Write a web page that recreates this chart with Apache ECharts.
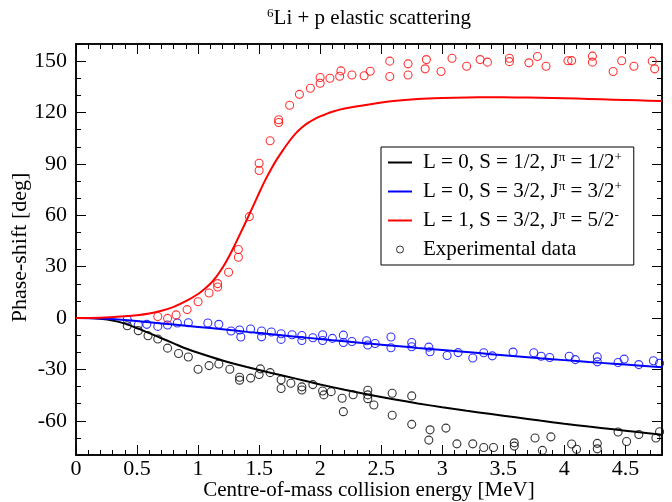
<!DOCTYPE html>
<html>
<head>
<meta charset="utf-8">
<script src="https://cdn.jsdelivr.net/npm/echarts@6/dist/echarts.min.js"></script>
<style>
  html, body { margin: 0; padding: 0; background: #fff; }
  #chart { width: 672px; height: 502px; }
</style>
</head>
<body>
<div id="chart"></div>
<script>
// 6Li + p elastic scattering: calculated phase shifts vs. measured values
const FONT = 'Liberation Serif';

// Tick positions
const xMajorTicks = [0, 0.5, 1, 1.5, 2, 2.5, 3, 3.5, 4, 4.5];
const yMajorTicks = [-60, -30, 0, 30, 60, 90, 120, 150];

// Calculated phase shifts [E (MeV), delta (deg)]
const curveS12 = [[0,0],[0.1,-0.05],[0.2,-0.5],[0.3,-1.5],[0.4,-3.3],[0.5,-5.9],[0.6,-8.8],[0.7,-11.8],[0.8,-14.8],[0.9,-17.8],[1.0,-20.3],[1.2,-24.8],[1.4,-28.6],[1.6,-32.1],[1.8,-35.4],[2.0,-38.8],[2.2,-41.9],[2.4,-44.8],[2.6,-47.4],[2.8,-49.9],[3.0,-52.1],[3.2,-54.2],[3.4,-56.1],[3.6,-58.0],[3.8,-59.9],[4.0,-61.7],[4.2,-63.4],[4.4,-65.0],[4.6,-66.6],[4.8,-68.1]];
const curveS32 = [[0,0],[0.2,-0.3],[0.4,-1.2],[0.6,-2.5],[0.8,-3.8],[1.0,-5.2],[1.2,-6.6],[1.4,-8.1],[1.6,-9.5],[1.8,-10.9],[2.0,-12.3],[2.2,-13.6],[2.4,-14.9],[2.6,-16.2],[2.8,-17.5],[3.0,-18.7],[3.2,-19.9],[3.4,-21.1],[3.6,-22.3],[3.8,-23.5],[4.0,-24.6],[4.2,-25.7],[4.4,-26.7],[4.6,-27.7],[4.8,-28.7]];
const curveP52 = [[0,0],[0.2,0.2],[0.4,1.0],[0.5,1.6],[0.6,2.6],[0.7,4.2],[0.8,6.5],[0.9,9.8],[1.0,14.0],[1.05,16.8],[1.1,20.0],[1.15,24.2],[1.2,29.3],[1.25,35.5],[1.3,42.5],[1.35,50.0],[1.4,57.5],[1.45,65.2],[1.5,73.0],[1.55,80.5],[1.6,87.2],[1.65,93.2],[1.7,98.5],[1.75,103.5],[1.8,107.8],[1.85,111.2],[1.9,113.9],[1.95,116.0],[2.0,117.7],[2.1,120.4],[2.2,122.3],[2.4,124.7],[2.6,126.7],[2.8,127.9],[3.0,128.5],[3.2,128.8],[3.4,128.9],[3.6,128.8],[3.8,128.6],[4.0,128.3],[4.2,127.9],[4.4,127.5],[4.6,127.1],[4.8,126.7]];

// Measured phase shifts [E (MeV), delta (deg)]
const dataS12 = [[0.42,-4.5],[0.51,-7.4],[0.59,-10.4],[0.67,-12.3],[0.75,-17.6],[0.84,-20.7],[0.92,-22.8],[1.0,-29.9],[1.09,-27.8],[1.17,-26.9],[1.26,-29.9],[1.34,-34.6],[1.34,-36.3],[1.43,-35.1],[1.51,-29.7],[1.50,-33.0],[1.59,-31.9],[1.68,-36.1],[1.68,-41.2],[1.76,-38.1],[1.85,-40.2],[1.85,-42.0],[1.94,-38.9],[2.02,-42.6],[2.03,-44.9],[2.09,-43.0],[2.18,-46.9],[2.19,-54.7],[2.27,-44.8],[2.39,-42.2],[2.39,-44.9],[2.39,-47.1],[2.44,-50.8],[2.59,-43.9],[2.59,-56.8],[2.75,-45.5],[2.75,-62.1],[2.90,-65.3],[2.89,-71.3],[3.03,-64.3],[3.12,-73.5],[3.25,-73.5],[3.34,-75.6],[3.42,-75.6],[3.59,-72.9],[3.59,-74.8],[3.76,-70.1],[3.82,-77.3],[3.89,-69.4],[4.06,-73.6],[4.10,-76.6],[4.27,-73.2],[4.27,-76.4],[4.44,-66.6],[4.51,-72.1],[4.61,-68.0],[4.75,-70.1],[4.78,-66.4]];
const dataS32 = [[0.42,-1.0],[0.51,-4.1],[0.58,-3.7],[0.67,-4.9],[0.75,-4.1],[0.83,-2.9],[0.92,-2.8],[1.08,-2.9],[1.17,-3.7],[1.27,-7.6],[1.34,-7.0],[1.35,-11.1],[1.43,-6.4],[1.52,-7.6],[1.52,-11.0],[1.60,-8.2],[1.68,-9.2],[1.68,-12.5],[1.77,-9.8],[1.85,-10.2],[1.85,-13.1],[1.94,-11.5],[2.02,-9.8],[2.02,-13.1],[2.10,-11.9],[2.19,-10.0],[2.19,-14.3],[2.26,-13.7],[2.38,-13.3],[2.39,-15.8],[2.45,-14.9],[2.58,-11.1],[2.58,-17.4],[2.75,-14.3],[2.75,-16.8],[2.89,-17.0],[2.90,-19.7],[3.04,-21.9],[3.13,-20.2],[3.25,-23.4],[3.34,-20.3],[3.41,-22.1],[3.58,-19.9],[3.75,-20.3],[3.81,-22.3],[3.88,-23.1],[4.04,-22.3],[4.09,-24.3],[4.27,-22.7],[4.27,-25.6],[4.44,-26.0],[4.49,-24.0],[4.61,-27.2],[4.73,-25.0],[4.78,-26.4]];
const dataP52 = [[0.67,0.9],[0.75,-0.2],[0.82,1.8],[0.91,4.9],[1.0,9.5],[1.09,14.6],[1.16,20.1],[1.16,18.1],[1.25,26.7],[1.33,40.0],[1.33,35.5],[1.42,59.2],[1.50,90.4],[1.50,86.1],[1.59,103.5],[1.66,115.8],[1.66,114.2],[1.75,124.2],[1.83,130.6],[1.92,134.2],[2.0,137.1],[2.0,140.4],[2.08,140.0],[2.16,141.2],[2.17,144.3],[2.26,141.9],[2.36,141.5],[2.41,144.1],[2.57,150.0],[2.57,141.0],[2.72,148.4],[2.72,141.9],[2.87,150.9],[2.86,145.5],[2.99,143.9],[3.08,151.7],[3.2,147.0],[3.31,150.9],[3.37,149.4],[3.55,151.7],[3.55,149.7],[3.71,149.0],[3.78,152.7],[3.85,147.0],[4.03,150.2],[4.06,150.3],[4.23,152.9],[4.23,149.4],[4.40,143.9],[4.47,150.2],[4.57,147.0],[4.72,150.0],[4.74,145.5]];

// Series names and their legend labels (with superscripts)
const nameS12 = 'L = 0, S = 1/2, Jπ = 1/2+';
const nameS32 = 'L = 0, S = 3/2, Jπ = 3/2+';
const nameP52 = 'L = 1, S = 3/2, Jπ = 5/2-';
const nameExp = 'Experimental data';
const legendLabels = {
  [nameS12]: 'L = 0, S = 1/2, J{sup|π} = 1/2{sup|+}',
  [nameS32]: 'L = 0, S = 3/2, J{sup|π} = 3/2{sup|+}',
  [nameP52]: 'L = 1, S = 3/2, J{sup|π} = 5/2{sup|-}',
  [nameExp]: 'Experimental data'
};

const supStyle = { fontFamily: FONT, fontSize: 13, lineHeight: 13, verticalAlign: 'top', color: '#000' };

function frameAxis(extra) {
  return Object.assign({
    type: 'value',
    splitLine: { show: false },
    axisLine: { show: true, onZero: false, lineStyle: { color: '#000', width: 1.5 } },
    axisLabel: { show: false },
    axisTick: { show: true, inside: true, length: 5, lineStyle: { color: '#000', width: 1 } }
  }, extra);
}
const tickLabel = { fontFamily: FONT, fontSize: 22, color: '#000' };
const majorTick = { show: true, inside: true, length: 10, lineStyle: { color: '#000', width: 1 } };

const xRange = { min: 0, max: 4.8 };
const yRange = { min: -80, max: 160 };

const xAxes = [
  frameAxis(Object.assign({}, xRange, {
    position: 'bottom',
    axisTick: Object.assign({ customValues: xMajorTicks }, majorTick),
    axisLabel: Object.assign({ show: true, margin: 3, customValues: xMajorTicks }, tickLabel),
    name: 'Centre-of-mass collision energy [MeV]',
    nameLocation: 'middle',
    nameGap: 25,
    nameMoveOverlap: false,
    nameTextStyle: { fontFamily: FONT, fontSize: 21, color: '#000' }
  })),
  frameAxis(Object.assign({}, xRange, { position: 'bottom', interval: 0.1 })),
  frameAxis(Object.assign({}, xRange, {
    position: 'top',
    axisTick: Object.assign({ customValues: xMajorTicks }, majorTick)
  })),
  frameAxis(Object.assign({}, xRange, { position: 'top', interval: 0.1 }))
];

const yAxes = [
  frameAxis(Object.assign({}, yRange, {
    position: 'left',
    axisTick: Object.assign({ customValues: yMajorTicks }, majorTick),
    axisLabel: Object.assign({ show: true, margin: 9, customValues: yMajorTicks }, tickLabel),
    name: 'Phase-shift [deg]',
    nameLocation: 'middle',
    nameGap: 45,
    nameMoveOverlap: false,
    nameTextStyle: { fontFamily: FONT, fontSize: 22, color: '#000', padding: [0, 0, 0, 4] }
  })),
  frameAxis(Object.assign({}, yRange, { position: 'left', interval: 10 })),
  frameAxis(Object.assign({}, yRange, {
    position: 'right',
    axisTick: Object.assign({ customValues: yMajorTicks }, majorTick)
  })),
  frameAxis(Object.assign({}, yRange, { position: 'right', interval: 10 }))
];

function curve(name, data, color) {
  return {
    type: 'line', name: name, data: data,
    symbol: 'none', showSymbol: false, smooth: 0.3,
    lineStyle: { color: color, width: 2 },
    itemStyle: { color: color },
    z: 3, silent: true
  };
}
function points(name, data, color) {
  return {
    type: 'scatter', name: name, data: data,
    symbol: 'circle', symbolSize: 8,
    itemStyle: { color: 'rgba(255,255,255,0)', borderColor: color, borderWidth: 1.1 },
    z: 2, silent: true
  };
}

const chart = echarts.init(document.getElementById('chart'), null, { renderer: 'canvas' });
chart.setOption({
  animation: false,
  backgroundColor: '#fff',
  title: {
    text: '{sup|6}Li + p elastic scattering',
    left: 369,
    top: 7,
    textAlign: 'center',
    padding: 0,
    textStyle: {
      fontFamily: FONT, fontSize: 21, fontWeight: 'normal', color: '#000', lineHeight: 23,
      rich: { sup: supStyle }
    }
  },
  grid: { left: 76, right: 10, top: 44, bottom: 47, containLabel: false, outerBoundsMode: 'none' },
  xAxis: xAxes,
  yAxis: yAxes,
  legend: {
    orient: 'vertical',
    left: 381,
    top: 147,
    padding: [4, 12, 4, 7],
    itemGap: 6,
    itemWidth: 24,
    itemHeight: 7,
    borderColor: '#000',
    borderWidth: 1,
    borderRadius: 0,
    backgroundColor: '#fff',
    selectedMode: false,
    data: [
      { name: nameS12, icon: 'path://M0,0H24V2H0Z', itemStyle: { color: '#000' } },
      { name: nameS32, icon: 'path://M0,0H24V2H0Z', itemStyle: { color: '#0000ff' } },
      { name: nameP52, icon: 'path://M0,0H24V2H0Z', itemStyle: { color: '#ff0000' } },
      { name: nameExp, icon: 'circle', itemStyle: { color: '#fff', borderColor: '#000', borderWidth: 1 } }
    ],
    formatter: function (name) { return legendLabels[name] || name; },
    textStyle: {
      fontFamily: FONT, fontSize: 21, lineHeight: 23, color: '#000',
      padding: [0, 0, 0, 6],
      rich: { sup: supStyle }
    }
  },
  series: [
    points('Experimental data, 3/2+', dataS32, '#0000ff'),
    points('Experimental data, 5/2-', dataP52, '#ff0000'),
    points(nameExp, dataS12, '#000'),
    curve(nameS12, curveS12, '#000'),
    curve(nameS32, curveS32, '#0000ff'),
    curve(nameP52, curveP52, '#ff0000')
  ]
});
</script>
</body>
</html>
